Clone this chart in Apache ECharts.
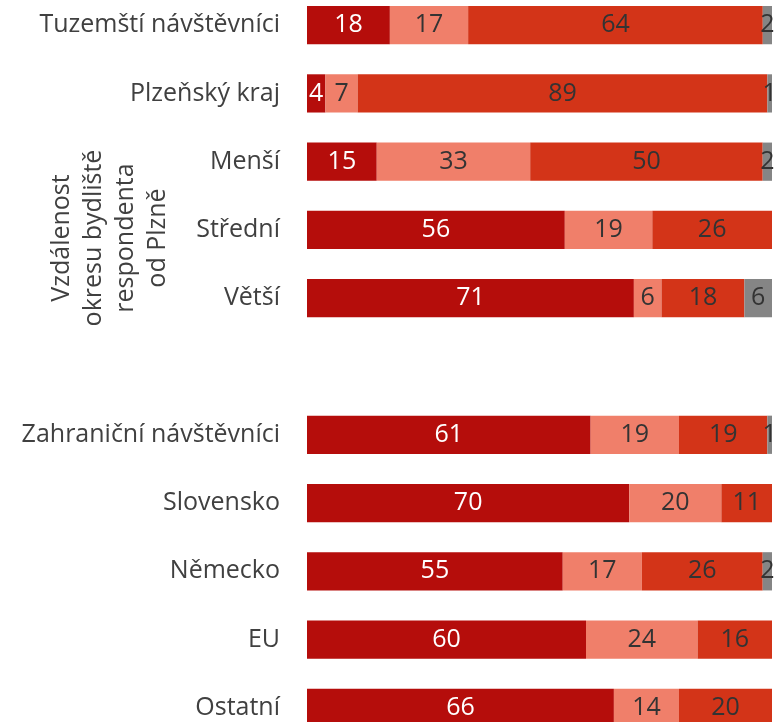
<!DOCTYPE html>
<html>
<head>
<meta charset="utf-8">
<script src="https://cdn.jsdelivr.net/npm/echarts@6/dist/echarts.min.js"></script>
<style>
  html, body { margin: 0; padding: 0; background: #fff; overflow: hidden; }
  /* graf je vyšší než okno, horní a dolní okraj je oříznutý */
  #chart { width: 782px; height: 751px; margin-top: -9px; }
</style>
</head>
<body>
<div id="chart"></div>
<script>
// kategorie (prázdná řádka odděluje skupiny)
var categories = ['Tuzemští návštěvníci', 'Plzeňský kraj', 'Menší', 'Střední', 'Větší', '',
  'Zahraniční návštěvníci', 'Slovensko', 'Německo', 'EU', 'Ostatní'];
// hodnoty v % (tak jak jsou popsané v grafu)
var val1 = [18, 4, 15, 56, 71, null, 61, 70, 55, 60, 66];
var val2 = [17, 7, 33, 19, 6, null, 19, 20, 17, 24, 14];
var val3 = [64, 89, 50, 26, 18, null, 19, 11, 26, 16, 20];
var val4 = [2, 1, 2, null, 6, null, 1, null, 2, null, null];

var colors = ['#b50d0b', '#f07f6a', '#d33418', '#858585'];
var allVals = [val1, val2, val3, val4];

// součet řádku - popisky jsou zaokrouhlené, pruh je vždy na 100 %
var rowSum = categories.map(function (c, i) {
  var s = 0;
  allVals.forEach(function (arr) { s += arr[i] || 0; });
  return s;
});

var chart = echarts.init(document.getElementById('chart'));

var series = allVals.map(function (arr, k) {
  return {
    name: 'S' + (k + 1),
    type: 'bar',
    stack: 'total',
    barCategoryGap: '44%',
    itemStyle: { color: colors[k] },
    label: {
      show: true,
      position: 'inside',
      fontFamily: 'Open Sans',
      fontSize: 25,
      color: k === 0 ? '#ffffff' : '#333333',
      formatter: function (p) { return p.data.raw; }
    },
    data: arr.map(function (v, i) {
      if (v == null) return { value: null, raw: '' };
      return { value: v / rowSum[i] * 100, raw: v };
    })
  };
});

var option = {
  animation: false,
  grid: { left: 307, right: 10, top: 0, bottom: 0, containLabel: false },
  xAxis: {
    type: 'value',
    min: 0,
    max: 100,
    show: false
  },
  yAxis: {
    type: 'category',
    inverse: true,
    data: categories,
    axisLine: { show: false },
    axisTick: { show: false },
    axisLabel: {
      margin: 27,
      fontFamily: 'Open Sans',
      fontSize: 25,
      color: '#404040'
    }
  },
  graphic: [{
    type: 'text',
    x: 110,
    y: 247,
    rotation: Math.PI / 2,
    style: {
      text: 'Vzdálenost\nokresu bydliště\nrespondenta\nod Plzně',
      fontFamily: 'Open Sans',
      fontSize: 25,
      lineHeight: 32,
      fill: '#404040',
      align: 'center',
      verticalAlign: 'middle'
    }
  }],
  series: series
};

chart.setOption(option);
</script>
</body>
</html>
